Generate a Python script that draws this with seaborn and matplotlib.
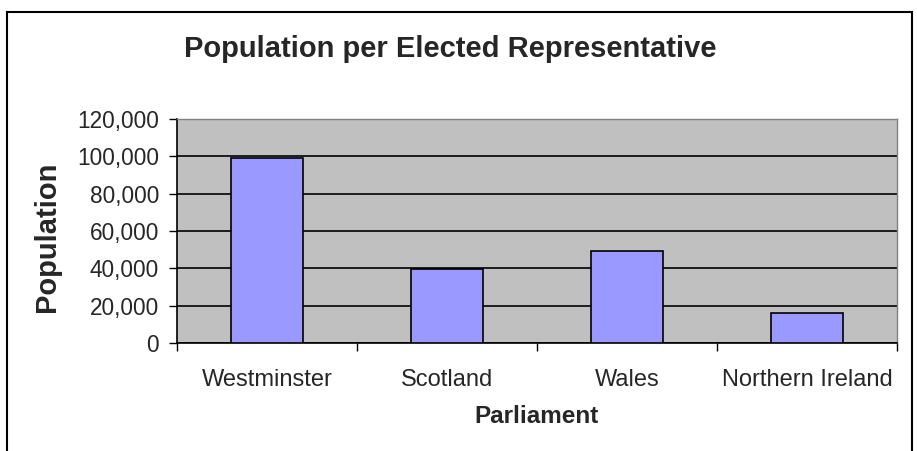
import matplotlib
matplotlib.use("Agg")
import matplotlib.pyplot as plt
import seaborn as sns
import pandas as pd
import numpy as np
from matplotlib.ticker import FuncFormatter, FixedLocator
from matplotlib.patches import Rectangle

categories = ["Westminster", "Scotland", "Wales", "Northern Ireland"]
population = [99000, 39700, 49500, 16000]
y_ticks = [0, 20000, 40000, 60000, 80000, 100000, 120000]

title = "Population per Elected Representative"
x_label = "Parliament"
y_label = "Population"

sns.set_style("white")
plt.rcParams["font.family"] = ["Liberation Sans", "DejaVu Sans"]

W, H = 917, 451
fig = plt.figure(figsize=(W / 100, H / 100), dpi=100)
ax = fig.add_axes([177 / W, 1 - 343 / H, (897 - 177) / W, (343 - 119) / H])

df = pd.DataFrame({"cat": categories, "pop": population})
sns.barplot(data=df, x="cat", y="pop", ax=ax, width=0.4, color="#9999FF",
            edgecolor="black", linewidth=1.2, saturation=1, zorder=3)

ax.set_facecolor("#C0C0C0")
ax.set_ylim(0, 120000)
ax.set_xlim(-0.5, len(categories) - 0.5)
ax.set_yticks(y_ticks)
ax.yaxis.set_major_formatter(FuncFormatter(lambda v, p: f"{int(v):,}"))
ax.grid(axis="y", color="black", linewidth=1.2, zorder=1)
ax.set_axisbelow(True)

ax.tick_params(axis="y", which="major", length=6, width=1, color="black",
               labelsize=16.3, pad=7, direction="out", left=True)
ax.tick_params(axis="x", which="major", length=0, labelsize=17, pad=19)
ax.xaxis.set_minor_locator(FixedLocator(np.arange(-0.5, len(categories), 1.0)))
ax.tick_params(axis="x", which="minor", length=6, width=1, color="black",
               direction="out", bottom=True)

for s in ["left", "bottom"]:
    ax.spines[s].set_color("black")
    ax.spines[s].set_linewidth(1.2)
for s in ["top", "right"]:
    ax.spines[s].set_color("#808080")
    ax.spines[s].set_linewidth(1.0)

ax.set_xlabel(x_label, fontsize=17.5, fontweight="bold")
ax.xaxis.label.set_va("baseline")
ax.xaxis.set_label_coords(0.5, (343 - 423) / 224)
ax.set_ylabel(y_label, fontsize=21, fontweight="bold")
ax.yaxis.label.set_va("center")
ax.yaxis.label.set_ha("center")
ax.yaxis.set_label_coords((47 - 177) / 720, (343 - 237) / 224)

fig.text(450 / W, 1 - 57 / H, title, fontsize=21, fontweight="bold",
         ha="center", va="baseline")

# chart frame
frame = Rectangle((7 / W, -0.05), (912 - 7) / W, 1 - 12 / H + 0.05,
                  transform=fig.transFigure, fill=False, edgecolor="black",
                  linewidth=1.5, clip_on=False)
fig.patches.append(frame)

fig.savefig("out.png", dpi=100, facecolor="white")
